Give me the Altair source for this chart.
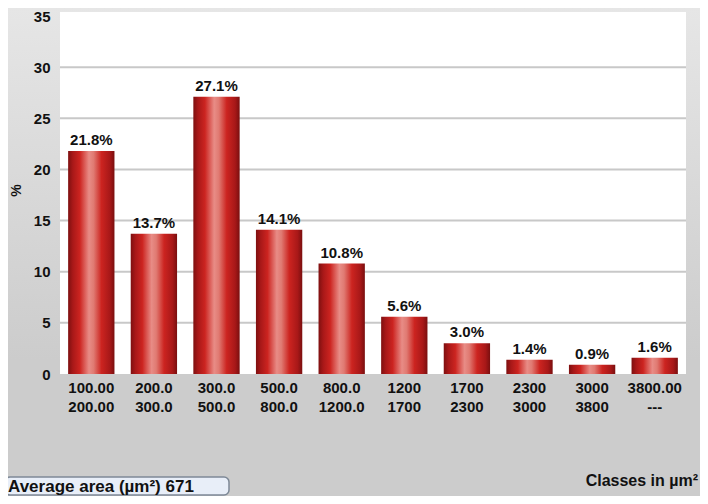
import altair as alt
import pandas as pd

# ---- data ----
class_lower = ["100.00", "200.0", "300.0", "500.0", "800.0", "1200", "1700", "2300", "3000", "3800.00"]
class_upper = ["200.00", "300.0", "500.0", "800.0", "1200.0", "1700", "2300", "3000", "3800", "---"]
percent = [21.8, 13.7, 27.1, 14.1, 10.8, 5.6, 3.0, 1.4, 0.9, 1.6]
grid_values = [5, 10, 15, 20, 25, 30]
y_ticks = [0, 5, 10, 15, 20, 25, 30, 35]
average_text = "Average area (µm²) 671"
x_title = "Classes in µm²"
y_title = "%"

W, H = 626, 358
TOP, LEFT = 8, 52
FONT = "Liberation Sans"

cats = [f"{a}\n{b}" for a, b in zip(class_lower, class_upper)]
df = pd.DataFrame({"cls": cats, "pct": percent,
                   "lab": [f"{v:.1f}%" for v in percent]})
grid_df = pd.DataFrame({"g": grid_values})

x_enc = alt.X("cls:N", sort=cats, title=None,
              scale=alt.Scale(paddingInner=0.26, paddingOuter=0.13),
              axis=alt.Axis(labelExpr="split(datum.label, '\\n')", labelAngle=0,
                            labelFontSize=15, labelFontWeight="bold", labelColor="#111",
                            labelLineHeight=19, labelPadding=6, ticks=False,
                            domain=False, grid=False, zindex=1, labelFont=FONT))
y_scale = alt.Scale(domain=[0, 35], nice=False)
y_enc = alt.Y("pct:Q", scale=y_scale, title=y_title,
              axis=alt.Axis(values=y_ticks, labelFontSize=15, labelFontWeight="bold",
                            labelColor="#111", labelPadding=10, ticks=False, domain=False,
                            grid=False, zindex=1, labelFont=FONT,
                            titleFontSize=14, titleFontWeight="bold", titleColor="#111",
                            titleX=-37, titleY=174, titleAngle=-90, titleFont=FONT))

one = alt.Data(values=[{}])

bg = alt.Chart(one).mark_rect(
    fill={"gradient": "linear", "x1": 0, "y1": 0, "x2": 0, "y2": 1,
          "stops": [{"offset": 0, "color": "#e6e6e6"},
                    {"offset": 0.72, "color": "#cccccc"},
                    {"offset": 1, "color": "#cccccc"}]}
).encode(x=alt.value(-LEFT), x2=alt.value(W + 14), y=alt.value(-TOP), y2=alt.value(488 - TOP))

plot_bg = alt.Chart(one).mark_rect(fill="white").encode(
    x=alt.value(0), x2=alt.value(W), y=alt.value(-4), y2=alt.value(H))

grid = alt.Chart(grid_df).mark_rule(color="#c8c8c8", strokeWidth=2).encode(
    y=alt.Y("g:Q", scale=y_scale), x=alt.value(0), x2=alt.value(W))

bar_fill = {"gradient": "linear", "x1": 0, "y1": 0, "x2": 1, "y2": 0,
            "stops": [{"offset": 0, "color": "#7e1010"},
                      {"offset": 0.1, "color": "#a81818"},
                      {"offset": 0.25, "color": "#cc2420"},
                      {"offset": 0.45, "color": "#e88c86"},
                      {"offset": 0.55, "color": "#e07a72"},
                      {"offset": 0.72, "color": "#cc2420"},
                      {"offset": 0.9, "color": "#a81818"},
                      {"offset": 1, "color": "#7a0f0f"}]}

bars = alt.Chart(df).mark_bar(fill=bar_fill).encode(x=x_enc, y=y_enc)

labels = alt.Chart(df).mark_text(baseline="bottom", dy=-3, fontSize=15, fontWeight="bold",
                                 color="#111", font=FONT).encode(
    x=alt.X("cls:N", sort=cats), y=alt.Y("pct:Q", scale=y_scale), text="lab:N")

box_y0 = 477 - 8 - TOP
box = alt.Chart(one).mark_rect(cornerRadius=5, fill="#e8eef8", stroke="#7d8896",
                               strokeWidth=1.5).encode(
    x=alt.value(-55), x2=alt.value(169), y=alt.value(box_y0), y2=alt.value(box_y0 + 18))
box_text = alt.Chart(one).mark_text(text=average_text, align="left", baseline="middle",
                                    fontSize=17, fontWeight="bold", color="#111",
                                    font=FONT).encode(
    x=alt.value(-52), y=alt.value(box_y0 + 9.5))
xt = alt.Chart(one).mark_text(text=x_title, align="right", baseline="middle",
                              fontSize=16, fontWeight="bold", color="#111",
                              font=FONT).encode(
    x=alt.value(W + 12), y=alt.value(481 - 8 - TOP))

chart = alt.layer(bg, plot_bg, grid, bars, labels, box, box_text, xt).properties(
    width=W, height=H,
    autosize=alt.AutoSizeParams(type="none"),
    padding={"left": LEFT, "top": TOP, "right": 14, "bottom": 488 - TOP - H},
    background="#cccccc",
).configure_view(stroke=None, fill=None)

chart.save("out.html", embed_options={"renderer": "svg", "actions": False})
